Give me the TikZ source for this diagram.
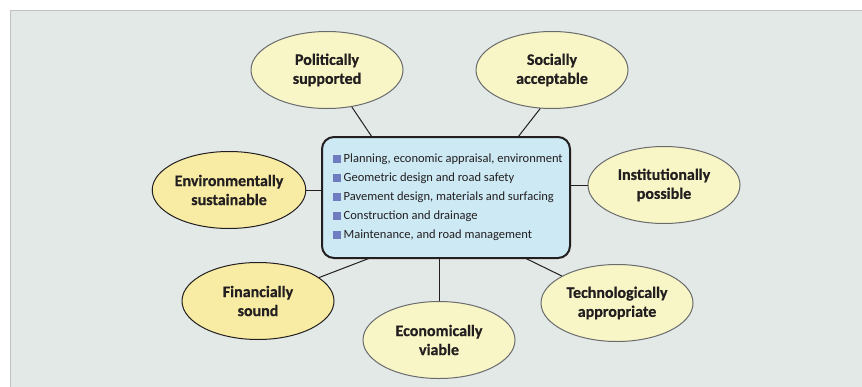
\documentclass[tikz,border=0pt]{standalone}
\usepackage{fontspec}
\setmainfont{Carlito}[BoldFeatures={FakeBold=0.6}]
\usetikzlibrary{shapes.geometric,calc}
\definecolor{panelbg}{HTML}{E2E9E7}
\definecolor{panelln}{HTML}{BFC2C1}
\definecolor{boxfill}{HTML}{CCE9F4}
\definecolor{lightell}{HTML}{F8F6C6}
\definecolor{darkell}{HTML}{F8EBA4}
\definecolor{ellline}{HTML}{6A6B6D}
\definecolor{txt}{HTML}{231F20}
\definecolor{bul}{HTML}{6F7DC0}
\tikzset{
  goal/.style={ellipse, draw=ellline, line width=1pt, fill=lightell,
    minimum width=152pt, minimum height=77pt, inner sep=0pt, align=center,
    text=txt, font=\fontsize{16}{19}\selectfont\bfseries},
  goaldark/.style={goal, fill=darkell, draw=txt},
  link/.style={draw=txt, line width=1pt},
  hub/.style={rectangle, rounded corners=12pt, draw=txt, line width=2pt,
    fill=boxfill, minimum width=248pt, minimum height=121pt, inner sep=0pt},
  hubtext/.style={align=left, text=txt, inner sep=0pt,
    font=\fontsize{12.5}{19}\selectfont}
}
\newcommand{\bsq}{\textcolor{bul}{\rule{8pt}{8pt}}\hspace{2.5pt}}
\begin{document}
\begin{tikzpicture}[x=1pt,y=-1pt]
\useasboundingbox (0,0) rectangle (862,386);
\fill[panelbg] (10.5,10.5) rectangle (880,400);
\draw[panelln, line width=1.5pt] (10.5,400) -- (10.5,10.5) -- (880,10.5);

\node[hub] (box) at (446,197.5) {};
\node[hubtext, anchor=west] (boxtxt) at (333,197.5) {%
\bsq Planning, economic appraisal, environment\\
\bsq Geometric design and road safety\\
\bsq Pavement design, materials and surfacing\\
\bsq Construction and drainage\\
\bsq Maintenance, and road management};

\node[goal] (pol) at (327,70) {Politically\\supported};
\node[goal] (soc) at (552,70) {Socially\\acceptable};
\node[goaldark] (env) at (229,190) {Environmentally\\sustainable};
\node[goal] (ins) at (664,185) {Institutionally\\possible};
\node[goaldark] (fin) at (258,301) {Financially\\sound};
\node[goal] (eco) at (439,340) {Economically\\viable};
\node[goal] (tec) at (617,303) {Technologically\\appropriate};

\coordinate (cpol) at (372,137);
\coordinate (csoc) at (518,137);
\coordinate (cenv) at (322,190);
\coordinate (cins) at (570,185);
\coordinate (cfin) at (370,258);
\coordinate (ceco) at (439,258);
\coordinate (ctec) at (525,258);

\draw[link] (pol) -- (cpol);
\draw[link] (soc.253) -- (csoc);
\draw[link] (env) -- (cenv);
\draw[link] (ins) -- (cins);
\draw[link] (fin) -- (cfin);
\draw[link] (eco) -- (ceco);
\draw[link] (tec) -- (ctec);
\end{tikzpicture}
\end{document}
